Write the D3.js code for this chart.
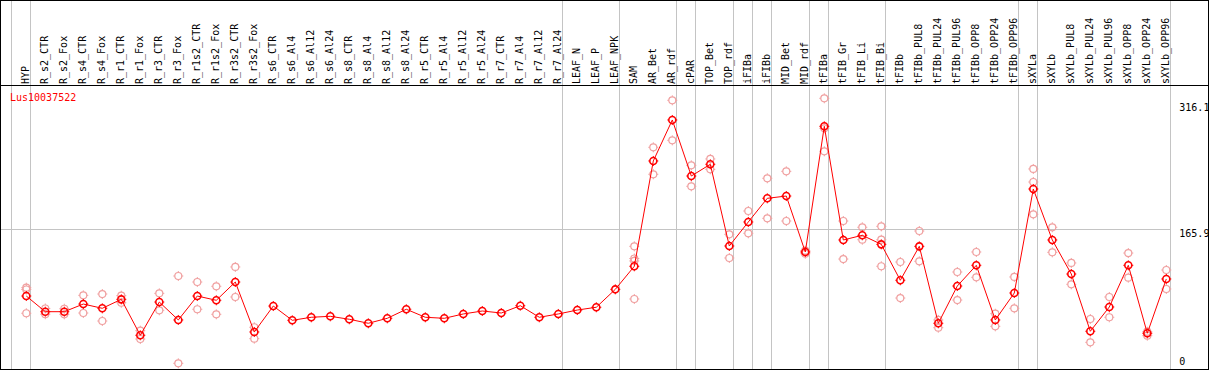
<!DOCTYPE html>
<html>
<head>
<meta charset="utf-8">
<script src="https://cdn.jsdelivr.net/npm/d3@7"></script>
<style>
  body { margin: 0; background: #fff; }
  text { font-family: "DejaVu Sans Mono", monospace; }
</style>
</head>
<body>
<div id="chart"></div>
<script>
// Sample names (columns)
const samples = ["HYP", "R_s2_CTR", "R_s2_Fox", "R_s4_CTR", "R_s4_Fox", "R_r1_CTR", "R_r1_Fox",
  "R_r3_CTR", "R_r3_Fox", "R_r1s2_CTR", "R_r1s2_Fox", "R_r3s2_CTR", "R_r3s2_Fox", "R_s6_CTR",
  "R_s6_Al4", "R_s6_Al12", "R_s6_Al24", "R_s8_CTR", "R_s8_Al4", "R_s8_Al12", "R_s8_Al24",
  "R_r5_CTR", "R_r5_Al4", "R_r5_Al12", "R_r5_Al24", "R_r7_CTR", "R_r7_Al4", "R_r7_Al12",
  "R_r7_Al24", "LEAF_N", "LEAF_P", "LEAF_NPK", "SAM", "AR_Bet", "AR_rdf", "cPAR", "TOP_Bet",
  "TOP_rdf", "iFIBa", "iFIBb", "MID_Bet", "MID_rdf", "tFIBa", "tFIB_Gr", "tFIB_Li", "tFIB_Bi",
  "tFIBb", "tFIBb_PUL8", "tFIBb_PUL24", "tFIBb_PUL96", "tFIBb_OPP8", "tFIBb_OPP24", "tFIBb_OPP96",
  "sXYLa", "sXYLb", "sXYLb_PUL8", "sXYLb_PUL24", "sXYLb_PUL96", "sXYLb_OPP8", "sXYLb_OPP24", "sXYLb_OPP96"];

// Mean expression per sample
const means = [88.9, 70.9, 70.9, 79.7, 74.8, 85.1, 43.8, 82.0, 61.4, 88.9,
  84.0, 105.0, 47.6, 77.4, 61.0, 64.5, 65.6, 62.2, 57.6, 63.3,
  73.7, 64.5, 63.3, 68.3, 71.7, 69.4, 77.8, 64.5, 68.3, 72.8,
  76.0, 96.6, 123.1, 244.1, 291.2, 226.8, 240.3, 146.4, 174.0, 201.2,
  203.8, 139.5, 283.9, 153.3, 158.7, 148.3, 107.0, 146.0, 57.6, 100.4,
  124.2, 61.4, 92.4, 211.9, 153.3, 114.2, 48.4, 76.3, 124.2, 46.1, 108.5];

// Individual replicate values per sample
const replicates = [
  [98.5, 96.4, 69.1], [74.6, 68.0], [74.3, 67.9], [89.7, 69.4], [91.2, 60.2],
  [89.3, 81.2], [49.1, 39.5], [92.0, 72.5], [111.9, 11.6], [105.0, 73.7],
  [100.1, 67.9], [122.3, 87.8], [53.0, 39.9], [], [], [], [], [], [], [], [],
  [], [], [], [], [], [], [], [], [], [], [],
  [146.0, 132.0, 129.2, 85.5], [259.8, 228.8], [313.8, 267.8], [239.1, 215.0],
  [246.4, 234.5], [159.8, 132.6], [186.6, 161.0], [224.2, 178.2], [232.2, 175.1],
  [141.0, 137.5], [316.1, 281.6, 255.2], [175.1, 131.4], [167.9, 153.6],
  [169.0, 153.6, 123.1], [128.0, 86.6], [163.6, 128.8], [61.4, 52.5], [116.5, 84.3],
  [139.5, 110.4], [68.6, 54.1], [110.8, 74.8], [234.9, 219.9, 182.8], [167.9, 139.1],
  [126.9, 102.4], [62.5, 35.7], [87.8, 64.5], [138.3, 110.0], [47.9, 43.3], [118.8, 97.0]
];

// Group boundaries: a separator is drawn after these column indices
const groupEnds = [-1, 0, 28, 31, 34, 35, 37, 38, 39, 41, 42, 45, 52, 53, 60];

// Right-hand axis labels
const yTicks = [316.1, 165.9, 0];
const geneName = "Lus10037522";

const W = 1209, H = 370;
const headerY = 85;

const svg = d3.select("#chart").append("svg")
  .attr("width", W)
  .attr("height", H);

const x = d3.scaleLinear().domain([0, samples.length - 1]).range([26.3, 1166.3]);
const y = d3.scaleLinear().domain([0, 316.1]).range([373.4, 98.3]);
const step = x(1) - x(0);
const plotRight = x(samples.length - 1) + 4;

// grey separators
svg.selectAll(".sep")
  .data(groupEnds)
  .enter()
  .append("line")
  .attr("class", "sep")
  .attr("x1", d => Math.round(x(d) + 4) + 0.5)
  .attr("x2", d => Math.round(x(d) + 4) + 0.5)
  .attr("y1", 0)
  .attr("y2", H)
  .attr("stroke", "#c4c4c4")
  .attr("stroke-width", 1);

// grid line at the middle tick
svg.selectAll(".grid")
  .data(yTicks.filter(d => d > 0 && d < 316.1))
  .enter()
  .append("line")
  .attr("class", "grid")
  .attr("x1", 0)
  .attr("x2", Math.round(plotRight) + 0.5)
  .attr("y1", d => Math.round(y(d)) + 0.5)
  .attr("y2", d => Math.round(y(d)) + 0.5)
  .attr("stroke", "#c4c4c4");

// frame and header rule
svg.append("rect")
  .attr("x", 0.5).attr("y", 0.5)
  .attr("width", W - 1).attr("height", H - 1)
  .attr("fill", "none")
  .attr("stroke", "#000");
svg.append("line")
  .attr("x1", 0).attr("x2", W)
  .attr("y1", headerY + 0.5).attr("y2", headerY + 0.5)
  .attr("stroke", "#000");

// column labels
svg.selectAll(".lab")
  .data(samples)
  .enter()
  .append("text")
  .attr("class", "lab")
  .attr("transform", (d, i) => `translate(${x(i) + 3},${headerY - 1}) rotate(-90)`)
  .attr("font-size", 10)
  .attr("fill", "#000")
  .text(d => d);

// axis labels on the right
svg.selectAll(".ytick")
  .data(yTicks)
  .enter()
  .append("text")
  .attr("class", "ytick")
  .attr("x", plotRight + 9)
  .attr("y", d => Math.min(Math.max(y(d) + 7.5, headerY + 26), H - 5))
  .attr("font-size", 10)
  .text(d => d);

// gene name
svg.append("text")
  .attr("x", 10)
  .attr("y", 101)
  .attr("font-size", 10)
  .attr("fill", "#ff0000")
  .text(geneName);

function marker(g, cx, cy, color, sw) {
  const m = g.append("g").attr("transform", `translate(${cx},${cy})`);
  m.append("circle")
    .attr("r", 3.5)
    .attr("fill", "none")
    .attr("stroke", color)
    .attr("stroke-width", sw);
  [[0, -1], [0, 1], [-1, 0], [1, 0]].forEach(([dx, dy]) => {
    m.append("line")
      .attr("x1", dx * 3.5).attr("y1", dy * 3.5)
      .attr("x2", dx * 5).attr("y2", dy * 5)
      .attr("stroke", color)
      .attr("stroke-width", 1);
  });
}

// replicates
const repLayer = svg.append("g");
replicates.forEach((vals, i) => {
  vals.forEach(v => marker(repLayer, x(i), y(v), "#f0a0a0", 1.2));
});

// mean line
const line = d3.line()
  .x((d, i) => x(i))
  .y(d => y(d));
svg.append("path")
  .datum(means)
  .attr("d", line)
  .attr("fill", "none")
  .attr("stroke", "#ff0000")
  .attr("stroke-width", 1);

// mean markers
const meanLayer = svg.append("g");
means.forEach((v, i) => marker(meanLayer, x(i), y(v), "#ff0000", 1.6));
</script>
</body>
</html>
